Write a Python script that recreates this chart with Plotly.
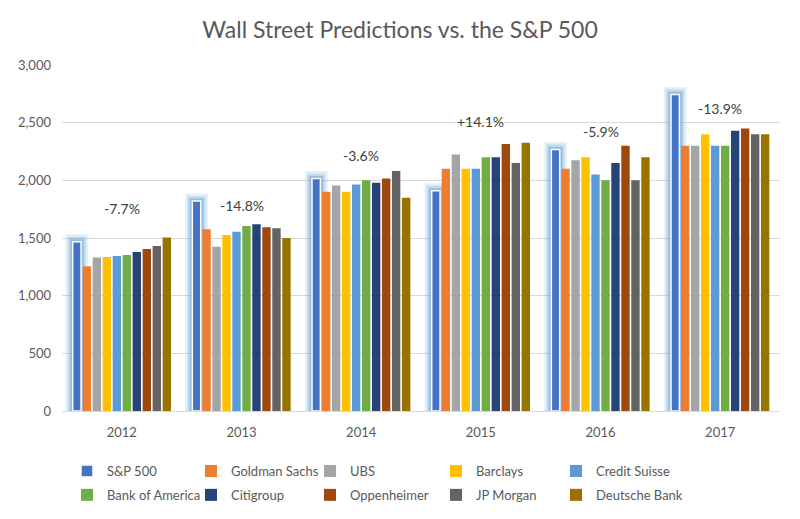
import plotly.graph_objects as go

years = ["2012", "2013", "2014", "2015", "2016", "2017"]

sp500 = [1468, 1820, 2015, 1910, 2268, 2745]
goldman = [1255, 1575, 1900, 2100, 2100, 2300]
ubs = [1330, 1425, 1955, 2225, 2175, 2300]
barclays = [1335, 1525, 1900, 2100, 2200, 2400]
credit_suisse = [1343, 1555, 1963, 2100, 2050, 2300]
bank_of_america = [1352, 1605, 2000, 2200, 2000, 2300]
citigroup = [1378, 1620, 1980, 2200, 2150, 2430]
oppenheimer = [1404, 1593, 2015, 2315, 2300, 2450]
jp_morgan = [1430, 1584, 2080, 2150, 2000, 2400]
deutsche_bank = [1505, 1500, 1850, 2325, 2200, 2400]

change_labels = ["-7.7%", "-14.8%", "-3.6%", "+14.1%", "-5.9%", "-13.9%"]
change_label_y = [1752, 1780, 2218, 2510, 2424, 2624]

series = [
    ("S&P 500", sp500, "#4472C4"),
    ("Goldman Sachs", goldman, "#ED7D31"),
    ("UBS", ubs, "#A5A5A5"),
    ("Barclays", barclays, "#FFC000"),
    ("Credit Suisse", credit_suisse, "#5B9BD5"),
    ("Bank of America", bank_of_america, "#70AD47"),
    ("Citigroup", citigroup, "#264478"),
    ("Oppenheimer", oppenheimer, "#9E480E"),
    ("JP Morgan", jp_morgan, "#636363"),
    ("Deutsche Bank", deutsche_bank, "#997300"),
]

FONT = "Lato, 'Open Sans', sans-serif"
TXT = "#595959"

# page body has an 8px margin, so the figure is drawn 8px in and down
W, H = 784, 503

slot = 0.0835
bw = 0.07
start = -0.4175

legend_ids = ["legend", "legend2", "legend3", "legend4", "legend5"]
legend_x_px = [59, 183, 302, 428, 548]

fig = go.Figure()

# glow behind S&P 500 bars
sp_off = start + (slot - bw) / 2
for pad, extra, alpha in [(0.06, 65, 0.16), (0.04, 42, 0.26), (0.022, 22, 0.45)]:
    fig.add_trace(go.Bar(
        x=years, y=[v + extra for v in sp500],
        offset=sp_off - pad, width=bw + 2 * pad,
        marker=dict(color=f"rgba(91,155,213,{alpha})", line=dict(width=0)),
        showlegend=False, hoverinfo="skip",
    ))

for k, (name, vals, color) in enumerate(series):
    off = start + k * slot + (slot - bw) / 2
    line = dict(color="white", width=1.5) if k == 0 else dict(width=0)
    fig.add_trace(go.Bar(
        name=name, x=years, y=vals,
        offset=off, width=bw,
        marker=dict(color=color, line=line),
        legend=legend_ids[k % 5], legendgroup=name,
    ))

for i, (lab, ly) in enumerate(zip(change_labels, change_label_y)):
    fig.add_annotation(
        x=i, y=ly, xref="x", yref="y", text=lab, showarrow=False,
        font=dict(family=FONT, size=14, color="#404040"),
    )

legends = {}
for lid, lx in zip(legend_ids, legend_x_px):
    legends[lid] = dict(
        orientation="v", xref="container", yref="container",
        x=lx / W, xanchor="left", y=1 - 448 / H, yanchor="top",
        itemwidth=30, tracegroupgap=4,
        font=dict(size=13, color=TXT), bgcolor="rgba(0,0,0,0)",
    )

fig.update_layout(
    width=W, height=H,
    barmode="overlay",
    paper_bgcolor="white", plot_bgcolor="white",
    margin=dict(l=54, r=12, t=57, b=100, autoexpand=False),
    title=dict(text="Wall Street Predictions vs. the S&P 500",
               x=0.5, xanchor="center", y=1 - 22 / H, yanchor="middle",
               font=dict(family=FONT, size=23, color=TXT)),
    font=dict(family=FONT, size=13, color=TXT),
    xaxis=dict(type="category", showgrid=False, showline=True,
               linecolor="#D9D9D9", linewidth=1, ticks="",
               ticklabelstandoff=9,
               tickfont=dict(size=13, color=TXT), range=[-0.5, 5.5]),
    yaxis=dict(range=[0, 3000], dtick=500, tickformat=",",
               gridcolor="#D9D9D9", gridwidth=1, zeroline=False,
               showline=False, ticks="", automargin=False,
               ticklabelstandoff=10,
               tickfont=dict(size=13, color=TXT)),
    **legends,
)

fig.write_html("out.html")
